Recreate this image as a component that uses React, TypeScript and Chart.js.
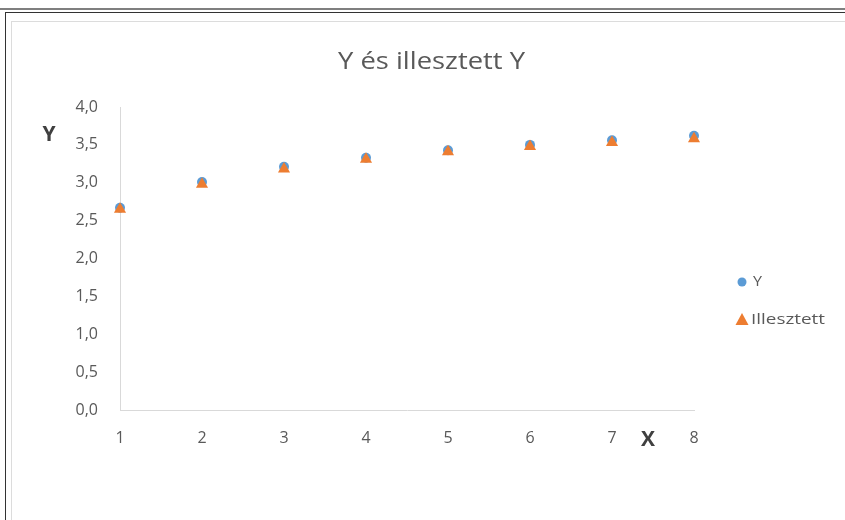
import React, { useEffect, useRef } from "react";
import { Chart, registerables } from "chart.js";

Chart.register(...registerables);

const xValues = [1, 2, 3, 4, 5, 6, 7, 8];
const yValues = [2.67, 3.01, 3.21, 3.33, 3.43, 3.5, 3.56, 3.62];
const fittedValues = [2.65, 2.98, 3.18, 3.31, 3.41, 3.48, 3.53, 3.58];
const seriesLabels = ["Y", "Illesztett"];
const titleText = "Y és illesztett Y";
const xAxisTitle = "X";
const yAxisTitle = "Y";

const FONT = "'Open Sans', Lato, 'Liberation Sans', sans-serif";
const TEXT = "#595959";

function stretchedText(ctx: any, text: string, x: number, y: number, targetWidth: number) {
  const w = ctx.measureText(text).width;
  const s = w > 0 ? targetWidth / w : 1;
  ctx.save();
  ctx.translate(x, y);
  ctx.scale(s, 1);
  ctx.textAlign = "left";
  ctx.fillText(text, 0, 0);
  ctx.restore();
}

const overlayPlugin = {
  id: "overlay",
  afterDraw(chart: any) {
    const ctx = chart.ctx;
    ctx.save();
    ctx.textBaseline = "middle";
    // title
    ctx.fillStyle = TEXT;
    ctx.font = `24px ${FONT}`;
    stretchedText(ctx, titleText, 338, 62, 187);
    // axis titles
    ctx.fillStyle = "#404040";
    ctx.font = `bold 21px ${FONT}`;
    ctx.textAlign = "center";
    ctx.fillText(yAxisTitle, 49, 135);
    ctx.fillText(xAxisTitle, 648, 440);
    // legend
    const ds = chart.data.datasets;
    const legendY = [282, 320];
    const legendW = [9, 74];
    ds.forEach((d: any, i: number) => {
      const cx = 742;
      const cy = legendY[i];
      ctx.fillStyle = d.backgroundColor;
      ctx.beginPath();
      if (d.pointStyle === "triangle") {
        ctx.moveTo(cx, cy - 7);
        ctx.lineTo(cx + 6.5, cy + 5);
        ctx.lineTo(cx - 6.5, cy + 5);
        ctx.closePath();
      } else {
        ctx.arc(cx, cy, 4.5, 0, Math.PI * 2);
      }
      ctx.fill();
      ctx.fillStyle = TEXT;
      ctx.font = `15px ${FONT}`;
      stretchedText(ctx, d.label, i === 1 ? 751 : 753, cy, legendW[i]);
    });
    ctx.restore();
  },
};

function ChartCanvas() {
  const ref = useRef<HTMLCanvasElement | null>(null);
  useEffect(() => {
    if (!ref.current) return;
    const chart = new Chart(ref.current, {
      type: "scatter",
      data: {
        datasets: [
          {
            label: seriesLabels[0],
            data: xValues.map((x, i) => ({ x, y: yValues[i] })),
            backgroundColor: "#5B9BD5",
            borderColor: "#5B9BD5",
            pointStyle: "circle",
            pointRadius: 5,
            pointBorderWidth: 0,
            clip: false,
            order: 1,
          },
          {
            label: seriesLabels[1],
            data: xValues.map((x, i) => ({ x, y: fittedValues[i] })),
            backgroundColor: "#ED7D31",
            borderColor: "#ED7D31",
            pointStyle: "triangle",
            pointRadius: 7,
            pointBorderWidth: 0,
            clip: false,
            order: 0,
          },
        ],
      },
      options: {
        responsive: false,
        animation: false,
        devicePixelRatio: 1,
        layout: { padding: { left: 0, top: 107, right: 151, bottom: 0 } },
        plugins: {
          legend: { display: false },
          title: { display: false },
          tooltip: { enabled: false },
        },
        scales: {
          x: {
            type: "linear",
            min: 1,
            max: 8,
            grid: { display: false, drawTicks: false },
            border: { display: true, color: "#D9D9D9", width: 1 },
            ticks: {
              stepSize: 1,
              padding: 19,
              color: TEXT,
              font: { family: FONT, size: 16 },
            },
            afterFit(scale: any) {
              scale.height = 110;
            },
          },
          y: {
            type: "linear",
            min: 0,
            max: 4,
            grid: { display: false, drawTicks: false },
            border: { display: true, color: "#D9D9D9", width: 1 },
            ticks: {
              stepSize: 0.5,
              padding: 22,
              color: TEXT,
              font: { family: FONT, size: 16 },
              callback: (v: any) => Number(v).toFixed(1).replace(".", ","),
            },
            afterFit(scale: any) {
              scale.width = 120;
            },
          },
        },
      },
      plugins: [overlayPlugin],
    });
    return () => chart.destroy();
  }, []);
  return (
    <canvas
      ref={ref}
      width={845}
      height={520}
      style={{ position: "absolute", left: 0, top: 0, width: 845, height: 520 }}
    />
  );
}

export default function App() {
  return (
    <div
      style={{
        position: "fixed",
        left: 0,
        top: 0,
        width: 845,
        height: 520,
        background: "#fff",
        overflow: "hidden",
      }}
    >
      <div style={{ position: "absolute", left: 0, top: 8, width: 845, height: 2, background: "#7f7f7f" }} />
      <div style={{ position: "absolute", left: 5, top: 12, width: 840, height: 1, background: "#333" }} />
      <div style={{ position: "absolute", left: 5, top: 12, width: 1, height: 508, background: "#333" }} />
      <div style={{ position: "absolute", left: 11, top: 21, width: 834, height: 1, background: "#dcdcdc" }} />
      <div style={{ position: "absolute", left: 11, top: 21, width: 1, height: 499, background: "#dcdcdc" }} />
      <ChartCanvas />
    </div>
  );
}
